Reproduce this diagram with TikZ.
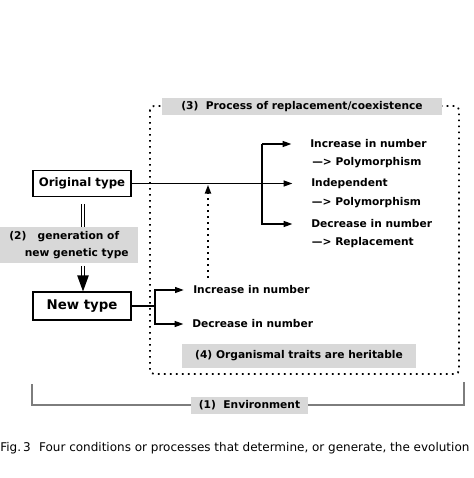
\documentclass[tikz,border=0pt]{standalone}
\usepackage{fontspec}
\setmainfont{DejaVu Sans}
\usetikzlibrary{positioning}
\usetikzlibrary{arrows.meta}

\definecolor{labelgray}{RGB}{216,216,216}
\definecolor{envgray}{RGB}{125,125,125}

\tikzset{
  typebox/.style={draw, line width=0.8pt, minimum width=73.5pt, inner sep=0pt, font=\bfseries},
  graylabel/.style={fill=labelgray, inner sep=0pt, font=\bfseries\fontsize{8}{12.5}\selectfont},
  outcome/.style={inner xsep=0pt, inner ysep=2.25pt, text height=7pt, text depth=2pt,
                  font=\bfseries\fontsize{8}{10}\selectfont},
  branch/.style={line width=0.9pt, -{Triangle[length=6.5pt, width=4.5pt]}},
  dotline/.style={line width=1.3pt, dash pattern=on 1.3pt off 3.2pt},
}

\begin{document}
\begin{tikzpicture}[x=0.75pt, y=-0.75pt]
  \useasboundingbox (0,0) rectangle (474,478);

  % Process box
  \draw[dotline, rounded corners=3pt] (150,106) rectangle (459,374);
  \node[graylabel, minimum width=210pt, minimum height=12.75pt] (proc) at (302,106.5)
    {(3)~~Process of replacement/coexistence};

  % Types
  \node[typebox, minimum height=20pt, font=\bfseries\fontsize{8.8}{11}\selectfont] (orig) at (82,183.5) {Original type};
  \node[typebox, minimum height=21pt, font=\bfseries\fontsize{10}{12}\selectfont] (new) at (82,306) {New type};
  \node[graylabel, minimum width=103.5pt, minimum height=27pt, align=left] (gen) at (69,245)
    {(2)~~~generation of\\\hspace*{1.45em}new genetic type};

  % Generation arrow
  \draw[double, double distance=2pt, line width=0.7pt, shorten <=5pt]
    ([xshift=0.75pt]orig.south) -- ([xshift=0.75pt]orig.south |- gen.north);
  \draw[double, double distance=1.6pt, line width=0.9pt, shorten <=2pt,
        -{Triangle[length=12pt, width=8.5pt]}] ([xshift=0.75pt]new.north |- gen.south) -- ([xshift=0.75pt]new.north);

  % Outcomes of the original type
  \node[outcome, anchor=west] (inc) at (310,144) {Increase in number};
  \node[outcome, below=0pt of inc.south west, anchor=north west, xshift=1.5pt] (poly1) {—> Polymorphism};
  \node[outcome, anchor=west] (indep) at (311,183.5) {Independent};
  \node[outcome, below=0pt of indep.south west, anchor=north west, xshift=0.5pt] (poly2) {—> Polymorphism};
  \node[outcome, anchor=west] (dec) at (311,224) {Decrease in number};
  \node[outcome, below=0pt of dec.south west, anchor=north west, xshift=0.5pt] (repl) {—> Replacement};

  \coordinate (split) at (262,144);
  \draw[branch, shorten >=14pt] (orig.east) -- (indep.west);
  \draw[branch, shorten >=14pt] (split) -- (inc.west);
  \draw[branch, shorten >=14pt] (split) |- (dec.west);

  % Outcomes of the new type
  \node[outcome, anchor=west] (incn) at (193,290) {Increase in number};
  \node[outcome, anchor=west] (decn) at (192,324) {Decrease in number};
  \coordinate (fork) at (155,306);
  \draw[line width=0.9pt] (new.east) -- (fork);
  \draw[branch, shorten >=7pt] (fork) |- (incn.west);
  \draw[branch, shorten >=6.5pt] (fork) |- (decn.west);

  % Heritability
  \coordinate (herit) at (208,278);
  \draw[dotline, -{Triangle[length=6.5pt, width=4.5pt]}, shorten >=1pt] (herit) -- (herit |- orig.east);
  \node[graylabel, minimum width=175.5pt, minimum height=18pt] (trait) at (299,356)
    {(4) Organismal traits are heritable};

  % Environment
  \draw[envgray, line width=0.8pt] (32,384) -- (32,405) -- (464,405) -- (464,382);
  \node[graylabel, minimum width=87.75pt, minimum height=12.75pt] (env) at (249.5,405.5)
    {(1)~~Environment};

  % Caption
  \node[anchor=west, inner sep=0pt, font=\fontsize{9}{11}\selectfont] (cap) at (0,448)
    {Fig.\,3\hspace{0.7em}Four conditions or processes that determine, or generate, the evolution};
\end{tikzpicture}
\end{document}
